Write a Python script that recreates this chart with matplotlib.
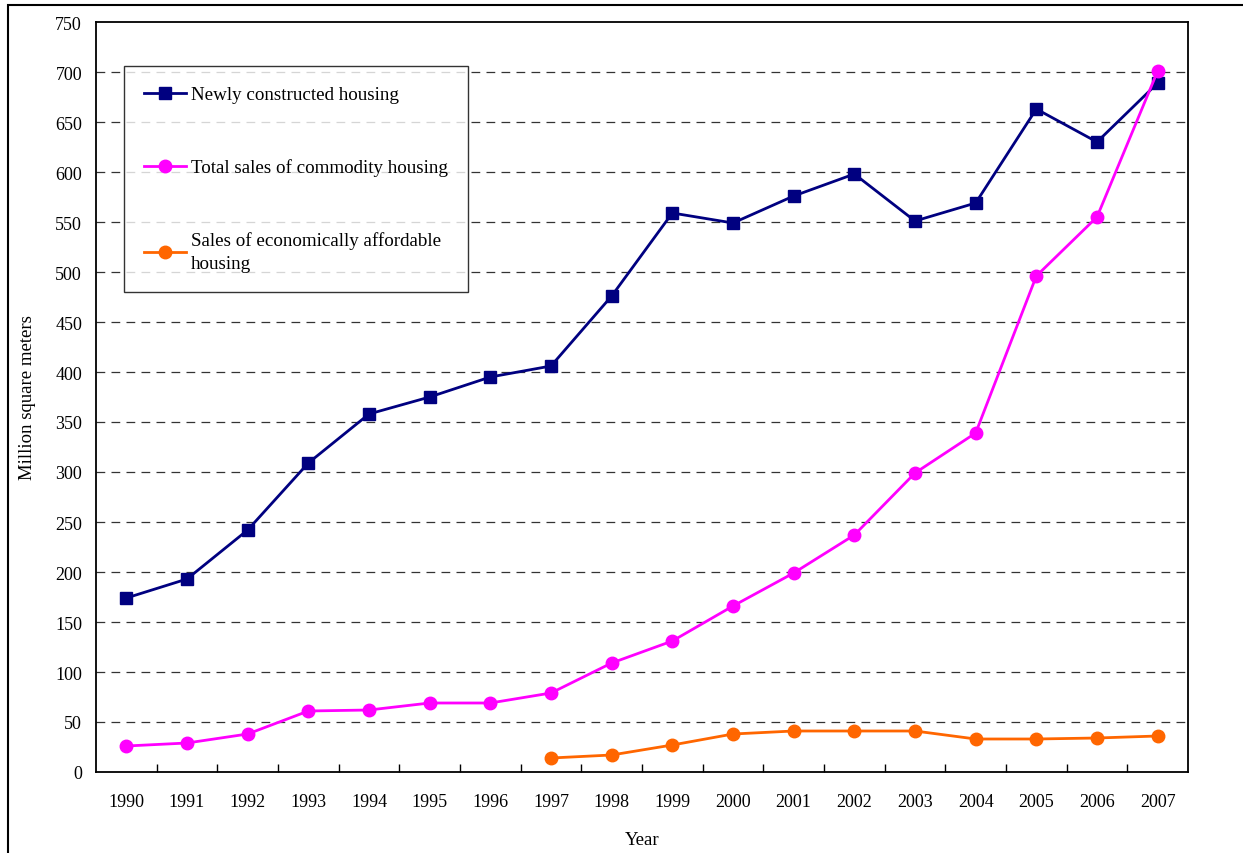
import matplotlib.pyplot as plt
from matplotlib.patches import Rectangle

years = ['1990', '1991', '1992', '1993', '1994', '1995', '1996', '1997', '1998',
         '1999', '2000', '2001', '2002', '2003', '2004', '2005', '2006', '2007']
newly_built = [174, 193, 242, 309, 358, 375, 395, 406, 476,
               559, 549, 576, 598, 551, 569, 663, 630, 689]
commodity_sales = [26, 29, 38, 61, 62, 69, 69, 79, 109,
                   131, 166, 199, 237, 299, 339, 496, 555, 701]
affordable_years = years[7:]
affordable_sales = [14, 17, 27, 38, 41, 41, 41, 33, 33, 34, 36]

plt.rcParams['font.family'] = ['Liberation Serif', 'DejaVu Serif']
plt.rcParams['font.size'] = 13

fig = plt.figure(figsize=(12.43, 8.54), dpi=100)
ax = fig.add_axes([96/1243, 1-773/854, (1188-96)/1243, 750/854])

x_all = list(range(len(years)))
x_aff = [years.index(y) for y in affordable_years]

ax.plot(x_all, newly_built, color='#000080', lw=2, marker='s', ms=8.5,
        label='Newly constructed housing', zorder=3)
ax.plot(x_all, commodity_sales, color='#FF00FF', lw=2, marker='o', ms=9,
        label='Total sales of commodity housing', zorder=4)
ax.plot(x_aff, affordable_sales, color='#FF6600', lw=2, marker='o', ms=9,
        label='Sales of economically affordable\nhousing', zorder=3)

ax.set_xlim(-0.5, len(years) - 0.5)
ax.set_ylim(0, 750)
ax.set_yticks(range(0, 751, 50))
ax.set_xticks(x_all)
ax.set_xticklabels(years)
ax.set_xticks([i + 0.5 for i in range(len(years) - 1)], minor=True)
ax.tick_params(axis='x', which='major', length=0, pad=15, labelsize=13)
ax.tick_params(axis='x', which='minor', direction='in', length=6, width=1)
ax.tick_params(axis='y', length=0, pad=10, labelsize=13)

for v in range(50, 750, 50):
    ax.axhline(v, color='#333333', lw=0.9, dashes=(7, 5), zorder=1)

for s in ax.spines.values():
    s.set_linewidth(1.3)

ax.set_xlabel('Year', fontsize=13.5, labelpad=15)
ax.set_ylabel('Million square meters', fontsize=13.5, labelpad=14)

leg = ax.legend(loc='upper left', bbox_to_anchor=(0.0256, 0.9413),
                frameon=True, fancybox=False, edgecolor='black',
                handlelength=2.2, handletextpad=0.25, labelspacing=2.9,
                borderpad=1.05, borderaxespad=0, fontsize=13.7)
leg.get_frame().set_linewidth(1.0)
for t in leg.get_texts():
    t.set_linespacing(1.45)

fig.add_artist(Rectangle((8/1243, -0.1), 1.5, (854-6)/854 + 0.1,
                         transform=fig.transFigure, fill=False,
                         lw=1.5, edgecolor='black'))

fig.savefig('out.png', dpi=100)
